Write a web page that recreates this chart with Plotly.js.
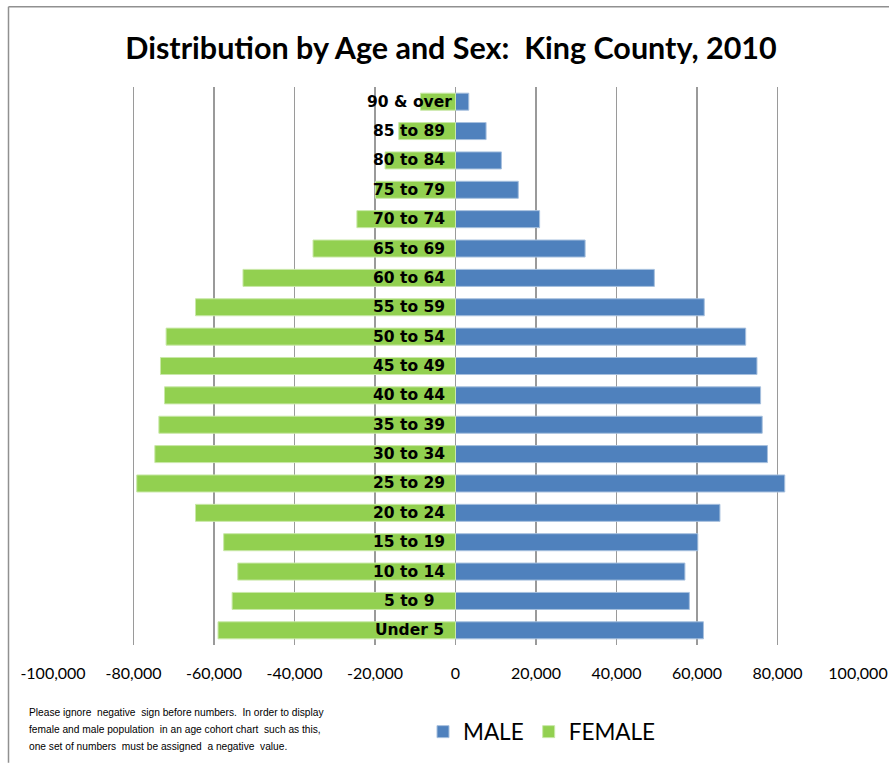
<!DOCTYPE html>
<html>
<head>
<meta charset="utf-8">
<script src="https://cdn.plot.ly/plotly-3.0.1.min.js"></script>
<style>html,body{margin:0;padding:0;background:#fff;}#chart{width:889px;height:764px;}</style>
</head>
<body>
<div id="chart"></div>
<script>
const ageGroups = ["Under 5","5 to 9","10 to 14","15 to 19","20 to 24","25 to 29","30 to 34","35 to 39","40 to 44","45 to 49","50 to 54","55 to 59","60 to 64","65 to 69","70 to 74","75 to 79","80 to 84","85 to 89","90 & over"];
const maleValues = [61600, 58100, 57000, 60200, 65700, 81800, 77500, 76200, 75800, 74900, 72100, 61800, 49400, 32200, 20900, 15600, 11400, 7600, 3300];
const femaleValues = [-59000, -55500, -54100, -57600, -64600, -79200, -74700, -73700, -72300, -73300, -71900, -64600, -52800, -35400, -24500, -19900, -17500, -14100, -8700];
const tickVals = [-100000,-80000,-60000,-40000,-20000,0,20000,40000,60000,80000,100000];
const tickLabels = ["-100,000","-80,000","-60,000","-40,000","-20,000","0","20,000","40,000","60,000","80,000","100,000"];
const titleText = "Distribution by Age and Sex:  King County, 2010";
const noteLines = ["Please ignore  negative  sign before numbers.  In order to display","female and male population  in an age cohort chart  such as this,","one set of numbers  must be assigned  a negative  value."];

const traces = [
  {type:'bar', orientation:'h', name:'MALE', y:ageGroups, x:maleValues, width:0.58,
   marker:{color:'#4F81BD', line:{color:'#A7C0DE', width:1}}, hoverinfo:'x+y'},
  {type:'bar', orientation:'h', name:'FEMALE', y:ageGroups, x:femaleValues, width:0.58,
   marker:{color:'#92D050', line:{color:'#C9E8A8', width:1}}, hoverinfo:'x+y'}
];

const labelAnnotations = ageGroups.map(g => ({
  xref:'x', yref:'y', x:-11500, y:g, text:'<b>'+g+'</b>', showarrow:false,
  xanchor:'center', yanchor:'middle',
  font:{family:'"DejaVu Sans", sans-serif', size:15.5, color:'#000'}
}));

const noteY = [714, 731, 748];
const noteAnnotations = noteLines.map((line, i) => ({
  xref:'paper', yref:'paper', x:(27-53)/805, y:(646-noteY[i])/559,
  xanchor:'left', yanchor:'middle', align:'left', showarrow:false,
  text: line,
  font:{family:'"Liberation Sans Narrow", "Liberation Sans", sans-serif', size:10.2, color:'#000'}
}));

const border = {color:'#909090', width:1.5};
const layout = {
  width:889, height:764,
  margin:{l:53, r:31, t:87, b:118, pad:0},
  paper_bgcolor:'#fff', plot_bgcolor:'#fff',
  barmode:'overlay',
  showlegend:true,
  title:{text:'<b>'+titleText+'</b>', x:451/889, xref:'container', xanchor:'center',
         y:1-48/764, yref:'container', yanchor:'middle',
         font:{family:'Lato, "Open Sans", sans-serif', size:30.5, color:'#000'}},
  xaxis:{range:[-100000,100000], tickvals:tickVals, ticktext:tickLabels,
         showgrid:true, gridcolor:'#9a9a9a', gridwidth:1.5, zeroline:false,
         showline:false, ticks:'', ticklabelstandoff:17,
         tickfont:{family:'Lato, "Open Sans", sans-serif', size:16, color:'#000'},
         fixedrange:true},
  yaxis:{range:[-0.5,18.5], showticklabels:false, showgrid:false, zeroline:false,
         showline:false, ticks:'', fixedrange:true},
  legend:{orientation:'h', x:(423-53)/805, xanchor:'left', y:(646-732)/559, yanchor:'middle',
          traceorder:'normal', font:{family:'Lato, "Open Sans", sans-serif', size:22.5, color:'#000'},
          bgcolor:'rgba(0,0,0,0)'},
  annotations: labelAnnotations.concat(noteAnnotations),
  shapes:[
    {type:'line', xref:'paper', yref:'paper', x0:(8.5-53)/805, x1:(889-53)/805, y0:(646-6.5)/559, y1:(646-6.5)/559, line:border},
    {type:'line', xref:'paper', yref:'paper', x0:(8.5-53)/805, x1:(8.5-53)/805, y0:(646-6.5)/559, y1:(646-764)/559, line:border}
  ]
};

Plotly.newPlot('chart', traces, layout, {displayModeBar:false, staticPlot:true});
</script>
</body>
</html>
